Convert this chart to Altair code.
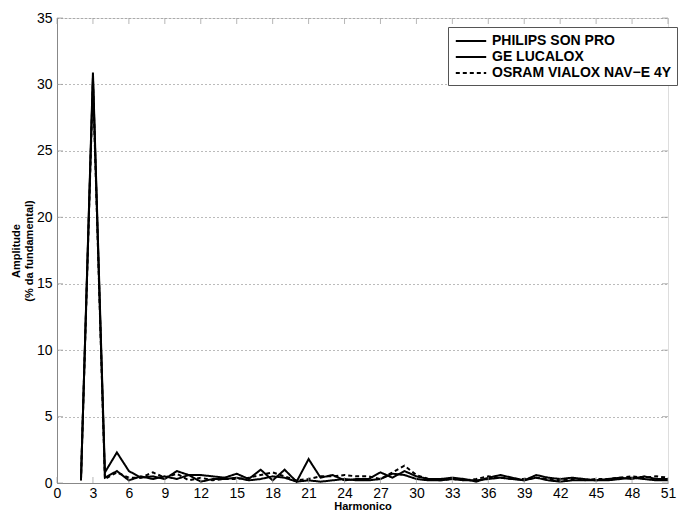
import altair as alt
import pandas as pd

harmonics = list(range(2, 52))
philips = [0.2, 30.9, 0.8, 2.3, 0.9, 0.4, 0.5, 0.3, 0.9, 0.6,
           0.6, 0.5, 0.4, 0.7, 0.3, 1.0, 0.2, 1.0, 0.1, 1.8,
           0.4, 0.6, 0.2, 0.3, 0.3, 0.8, 0.4, 0.9, 0.5, 0.3,
           0.3, 0.4, 0.3, 0.1, 0.4, 0.6, 0.4, 0.2, 0.6, 0.4,
           0.3, 0.4, 0.3, 0.2, 0.3, 0.4, 0.3, 0.5, 0.3, 0.3]
ge = [0.2, 30.5, 0.4, 0.9, 0.2, 0.5, 0.3, 0.5, 0.3, 0.6,
      0.1, 0.3, 0.3, 0.4, 0.2, 0.3, 0.5, 0.4, 0.1, 0.2,
      0.1, 0.2, 0.3, 0.2, 0.2, 0.3, 0.7, 0.6, 0.3, 0.2,
      0.2, 0.3, 0.2, 0.2, 0.3, 0.4, 0.3, 0.2, 0.4, 0.2,
      0.1, 0.2, 0.2, 0.2, 0.2, 0.3, 0.4, 0.3, 0.2, 0.2]
osram = [0.2, 30.2, 0.3, 0.8, 0.4, 0.4, 0.8, 0.4, 0.7, 0.2,
         0.4, 0.2, 0.3, 0.3, 0.4, 0.6, 0.8, 0.5, 0.2, 0.3,
         0.5, 0.5, 0.6, 0.5, 0.5, 0.3, 0.8, 1.3, 0.6, 0.3,
         0.2, 0.3, 0.2, 0.3, 0.5, 0.4, 0.3, 0.3, 0.4, 0.3,
         0.2, 0.3, 0.2, 0.3, 0.3, 0.4, 0.5, 0.4, 0.5, 0.4]
series_names = ["PHILIPS SON PRO", "GE LUCALOX", "OSRAM VIALOX NAV\u2212E 4Y"]
x_ticks = list(range(0, 52, 3))
y_ticks = list(range(0, 36, 5))

rows = []
for name, vals in zip(series_names, [philips, ge, osram]):
    for h, v in zip(harmonics, vals):
        rows.append({"Harmonico": h, "Amplitude": v, "Lampada": name})
df = pd.DataFrame(rows)

W, H = 611, 465
FONT = "Liberation Sans"

xscale = alt.Scale(domain=[0, 51], nice=False, zero=False)
yscale = alt.Scale(domain=[0, 35], nice=False)

x_axis = alt.Axis(values=x_ticks, title="Harmonico", grid=False, labelOverlap=False,
                  labelFlush=False, tickSize=0, labelPadding=3, titlePadding=0,
                  labelFontSize=14)
y_axis = alt.Axis(values=y_ticks, title=["Amplitude", "(% da fundamental)"],
                  labelOverlap=False, labelFlush=False, labelFontSize=14,
                  grid=True, gridDash=[1, 3], gridColor="#777777", gridWidth=1,
                  tickSize=0, labelPadding=5, titlePadding=2)

lines = alt.Chart(df).mark_line(strokeWidth=2).encode(
    x=alt.X("Harmonico:Q", scale=xscale, axis=x_axis),
    y=alt.Y("Amplitude:Q", scale=yscale, axis=y_axis),
    color=alt.Color("Lampada:N", sort=series_names,
                    scale=alt.Scale(domain=series_names, range=["black", "black", "black"]),
                    legend=alt.Legend(title=None, orient="none", legendX=391, legendY=9,
                                      symbolType="M-1.9,0H1.9",
                                      symbolStrokeWidth=2, symbolSize=256,
                                      symbolFillColor="transparent", symbolOffset=9,
                                      strokeColor="#555555", fillColor="white",
                                      padding=5, rowPadding=0, labelLimit=400,
                                      labelFont=FONT, labelFontSize=14, labelFontWeight="bold",
                                      labelColor="black", labelOffset=12)),
    strokeDash=alt.StrokeDash("Lampada:N", sort=series_names,
                              scale=alt.Scale(domain=series_names,
                                              range=[[1, 0], [1, 0], [4, 3]]),
                              legend=None),
)

tick_df_x = pd.DataFrame({"Harmonico": x_ticks})
tick_df_y = pd.DataFrame({"Amplitude": y_ticks})
xt_bottom = alt.Chart(tick_df_x).mark_tick(color="#999999", size=6, thickness=1).encode(
    x=alt.X("Harmonico:Q", scale=xscale, axis=x_axis), y=alt.value(H - 3))
xt_top = alt.Chart(tick_df_x).mark_tick(color="#999999", size=6, thickness=1).encode(
    x=alt.X("Harmonico:Q", scale=xscale, axis=x_axis), y=alt.value(3))
yt_left = alt.Chart(tick_df_y).mark_tick(color="#999999", size=6, thickness=1).encode(
    y=alt.Y("Amplitude:Q", scale=yscale, axis=y_axis), x=alt.value(3))
yt_right = alt.Chart(tick_df_y).mark_tick(color="#999999", size=6, thickness=1).encode(
    y=alt.Y("Amplitude:Q", scale=yscale, axis=y_axis), x=alt.value(W - 3))

chart = alt.layer(lines, xt_bottom, xt_top, yt_left, yt_right).properties(
    width=W, height=H,
    autosize=alt.AutoSizeParams(type="none"),
    padding={"left": 57, "top": 18, "right": 12, "bottom": 29},
).configure_view(stroke="#888888", strokeWidth=1).configure_axis(
    domainColor="#888888", labelFont=FONT, labelFontSize=14, labelFontWeight="bold",
    labelColor="#222222", titleFont=FONT, titleFontSize=12.5, titleFontWeight="bold",
    titleColor="#222222"
).configure(background="white")

chart.save("out.html", embed_options={"renderer": "svg", "actions": False})
